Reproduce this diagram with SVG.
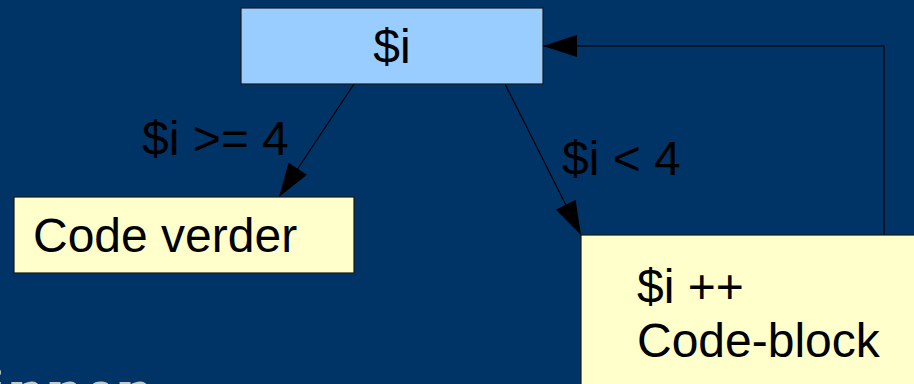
<svg xmlns="http://www.w3.org/2000/svg" width="914" height="384" viewBox="0 0 914 384">
<style>
.lbl{font-family:"Liberation Sans",Arial,sans-serif;font-size:48px;fill:#000}
.con{fill:none;stroke:#000;stroke-width:1.2}
.box{stroke:#1a1a1a;stroke-width:1.2}
</style>
<defs>
<marker id="ah" markerUnits="userSpaceOnUse" markerWidth="34" markerHeight="22" refX="34" refY="11" orient="auto" viewBox="0 0 34 22">
<path d="M0,0 L34,11 L0,22 z" fill="#000"/>
</marker>
</defs>
<rect width="914" height="384" fill="#003366"/>
<text x="-12" y="409" font-family="'Liberation Serif',serif" font-size="60" font-weight="bold" letter-spacing="5" fill="#c8c8c8">innen</text>
<g id="connectors">
<line class="con" x1="354" y1="84" x2="279" y2="197" marker-end="url(#ah)"/>
<line class="con" x1="505" y1="84" x2="581" y2="235" marker-end="url(#ah)"/>
<polyline class="con" points="884,235 884,46 543,46" marker-end="url(#ah)"/>
<text class="lbl" x="142" y="155">$i &gt;= 4</text>
<text class="lbl" x="562" y="175">$i &lt; 4</text>
</g>
<g id="node-i">
<rect class="box" x="241" y="8" width="302" height="76" fill="#99ccff"/>
<text class="lbl" x="392" y="63" text-anchor="middle">$i</text>
</g>
<g id="node-verder">
<rect class="box" x="14" y="197" width="340" height="76" fill="#ffffcc"/>
<text class="lbl" x="33" y="252">Code verder</text>
</g>
<g id="node-block">
<rect class="box" x="581" y="235" width="345" height="160" fill="#ffffcc"/>
<text class="lbl" x="637" y="303">$i ++</text>
<text class="lbl" x="637" y="357">Code-block</text>
</g>
</svg>
